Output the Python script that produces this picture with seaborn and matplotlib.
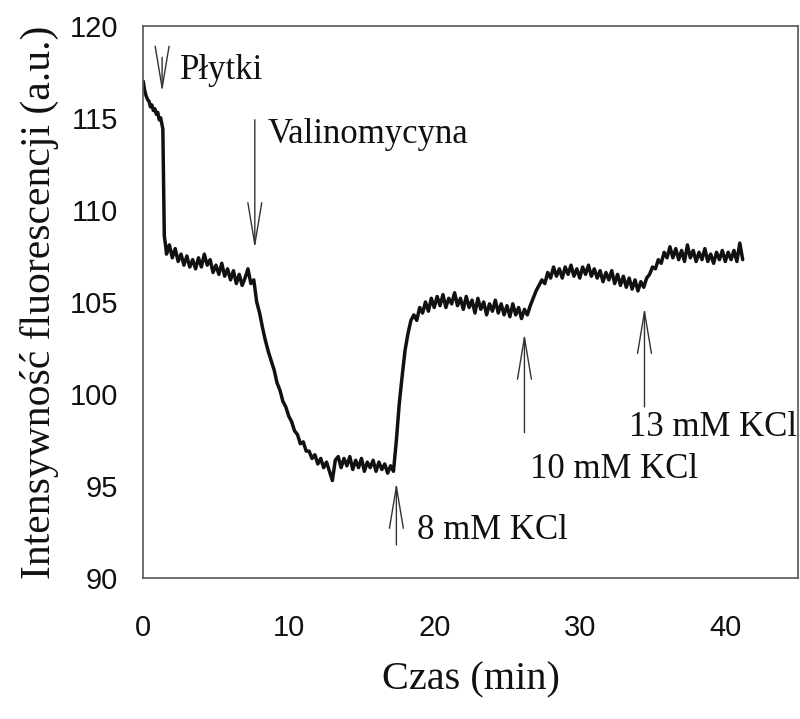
import pandas as pd
import matplotlib.pyplot as plt
import seaborn as sns

# Trace (time in min, fluorescence in a.u.)
czas = [0.0, 0.1, 0.2, 0.3, 0.4, 0.5, 0.6, 0.7, 0.8, 0.9, 1.0, 1.1, 1.2, 1.3, 1.35, 1.45, 1.55,
        1.6, 1.8, 2.0, 2.2, 2.4, 2.6, 2.8, 3.0, 3.2, 3.4, 3.6, 3.8, 4.0, 4.2, 4.4, 4.6, 4.8,
        5.0, 5.2, 5.4, 5.6, 5.8, 6.0, 6.2, 6.4, 6.6, 6.8, 7.0, 7.2, 7.4, 7.6,
        7.8, 8.0, 8.2, 8.4, 8.6, 8.8, 9.0, 9.2, 9.4, 9.6, 9.8, 10.0, 10.2, 10.4, 10.6, 10.8,
        11.0, 11.2, 11.4, 11.6, 11.8, 12.0, 12.2, 12.4, 12.6, 12.8, 13.0, 13.2, 13.4, 13.6,
        13.8, 14.0, 14.2, 14.4, 14.6, 14.8, 15.0, 15.2, 15.4, 15.6, 15.8, 16.0, 16.2, 16.4,
        16.6, 16.8, 17.0, 17.2,
        17.4, 17.6, 17.8, 18.0, 18.2, 18.4, 18.6, 18.8, 19.0, 19.2, 19.4, 19.6, 19.8, 20.0,
        20.2, 20.4, 20.6, 20.8, 21.0, 21.2, 21.4, 21.6, 21.8, 22.0, 22.2, 22.4, 22.6, 22.8,
        23.0, 23.2, 23.4, 23.6, 23.8, 24.0, 24.2, 24.4, 24.6, 24.8, 25.0, 25.2, 25.4, 25.6,
        25.8, 26.0, 26.2, 26.4, 26.6,
        26.8, 27.0, 27.2, 27.4, 27.6, 27.8, 28.0, 28.2, 28.4, 28.6, 28.8, 29.0, 29.2, 29.4,
        29.6, 29.8, 30.0, 30.2, 30.4, 30.6, 30.8, 31.0, 31.2, 31.4, 31.6, 31.8, 32.0, 32.2,
        32.4, 32.6, 32.8, 33.0, 33.2, 33.4, 33.6, 33.8, 34.0, 34.2, 34.4,
        34.6, 34.8, 35.0, 35.2, 35.4, 35.6, 35.8, 36.0, 36.2, 36.4, 36.6, 36.8, 37.0, 37.2,
        37.4, 37.6, 37.8, 38.0, 38.2, 38.4, 38.6, 38.8, 39.0, 39.2, 39.4, 39.6, 39.8, 40.0,
        40.2, 40.4, 40.6, 40.8, 41.0, 41.2]
intensywnosc = [117.0, 116.5, 116.2, 116.0, 115.9, 115.6, 115.7, 115.4, 115.5, 115.2, 115.3, 114.9,
                115.0, 114.6, 114.4, 108.6, 108.0,
                107.6, 108.1, 107.4, 107.9, 107.2, 107.6, 107.0, 107.5, 106.9, 107.3, 106.8, 107.4,
                106.9, 107.6, 107.0, 107.3, 106.6, 107.0, 106.5, 107.1, 106.4, 106.8, 106.2, 106.7,
                106.0, 106.5, 105.9, 106.3, 106.8, 106.0, 106.2,
                105.0, 104.4, 103.6, 102.9, 102.3, 101.8, 101.3, 100.6, 100.2, 99.6, 99.3, 98.8,
                98.5, 98.0, 97.8, 97.3, 97.4, 96.9, 96.9, 96.5, 96.7, 96.2, 96.5, 96.0, 96.3, 95.8,
                95.3, 96.4, 96.6, 96.0, 96.5, 96.1, 96.6, 95.9, 96.4, 96.0, 96.5, 95.8, 96.3, 96.0,
                96.4, 95.8, 96.3, 95.9, 96.2, 95.7, 96.1, 95.8,
                97.5, 99.5, 101.0, 102.4, 103.3, 104.0, 104.3, 104.0, 104.7, 104.4, 105.0, 104.5,
                105.2, 104.7, 105.3, 104.8, 105.4, 104.7, 105.2, 104.9, 105.5, 104.8, 105.2, 104.6,
                105.3, 104.7, 105.1, 104.4, 105.2, 104.6, 105.0, 104.3, 104.9, 104.5, 105.1, 104.4,
                104.9, 104.3, 104.8, 104.2, 104.9, 104.3, 104.7, 104.1, 104.6, 104.3, 104.8,
                105.2, 105.6, 105.9, 106.2, 106.0, 106.6, 106.3, 106.9, 106.4, 106.8, 106.3, 106.9,
                106.5, 107.0, 106.4, 106.8, 106.3, 106.9, 106.5, 107.0, 106.4, 106.8, 106.3, 106.7,
                106.1, 106.6, 106.2, 106.7, 106.0, 106.5, 105.9, 106.4, 105.8, 106.3, 105.7, 106.2,
                105.6, 106.1, 105.8,
                106.3, 106.5, 106.9, 106.8, 107.3, 107.1, 107.7, 107.4, 108.0, 107.4, 107.9, 107.3,
                107.8, 107.2, 108.1, 107.4, 107.8, 107.2, 107.7, 107.3, 107.9, 107.2, 107.6, 107.1,
                107.7, 107.3, 107.8, 107.2, 107.7, 107.3, 107.8, 107.2, 108.2, 107.3]

# Additions: label, arrow x, arrow tail y, arrow head y, text x, text y
dodatki = ['Płytki', 'Valinomycyna', '8 mM KCl', '10 mM KCl', '13 mM KCl']
strzalka_x = [1.3, 7.67, 17.4, 26.2, 34.45]
strzalka_od = [118.3, 114.9, 91.8, 97.9, 99.3]
strzalka_do = [116.4, 107.9, 95.2, 103.3, 104.7]
tekst_x = [2.5, 8.55, 18.8, 26.6, 33.4]
tekst_y = [117.6, 114.1, 92.6, 95.9, 98.2]

df = pd.DataFrame({'czas': czas, 'intensywnosc': intensywnosc})

sns.set_style('white')
plt.rcParams['font.family'] = ['Liberation Serif', 'DejaVu Serif']

fig, ax = plt.subplots(figsize=(8, 7.19), dpi=100)
fig.subplots_adjust(left=0.179, right=0.9975, top=0.964, bottom=0.196)

sns.lineplot(data=df, x='czas', y='intensywnosc', ax=ax, color='#111111', linewidth=2.5)

for lab, ax_x, y0, y1, tx, ty in zip(dodatki, strzalka_x, strzalka_od, strzalka_do, tekst_x, tekst_y):
    ax.annotate('', xy=(ax_x, y1), xytext=(ax_x, y0),
                arrowprops=dict(arrowstyle='->,head_length=1.2,head_width=0.2',
                                color='#333333', lw=1.0, mutation_scale=25,
                                shrinkA=0, shrinkB=0))
    ax.text(tx, ty, lab, fontsize=25, ha='left', va='center', color='#111111')

ax.set_xlim(0, 45)
ax.set_ylim(90, 120)
ax.set_xticks([0, 10, 20, 30, 40])
ax.set_yticks([90, 95, 100, 105, 110, 115, 120])
ax.tick_params(axis='both', direction='in', length=4, width=1, color='#555555')
ax.tick_params(axis='x', pad=26)
ax.tick_params(axis='y', pad=18)
for lbl in ax.get_xticklabels() + ax.get_yticklabels():
    lbl.set_family(['Liberation Sans', 'DejaVu Sans'])
    lbl.set_fontsize(21)
    lbl.set_color('#111111')

for s in ax.spines.values():
    s.set_color('#555555')
    s.set_linewidth(1.2)

ax.set_xlabel('Czas (min)', fontsize=29, color='#111111', labelpad=14)
ax.set_ylabel('Intensywność fluorescencji (a.u.)', fontsize=30, color='#111111', labelpad=8)

fig.savefig('out.png', dpi=100)
